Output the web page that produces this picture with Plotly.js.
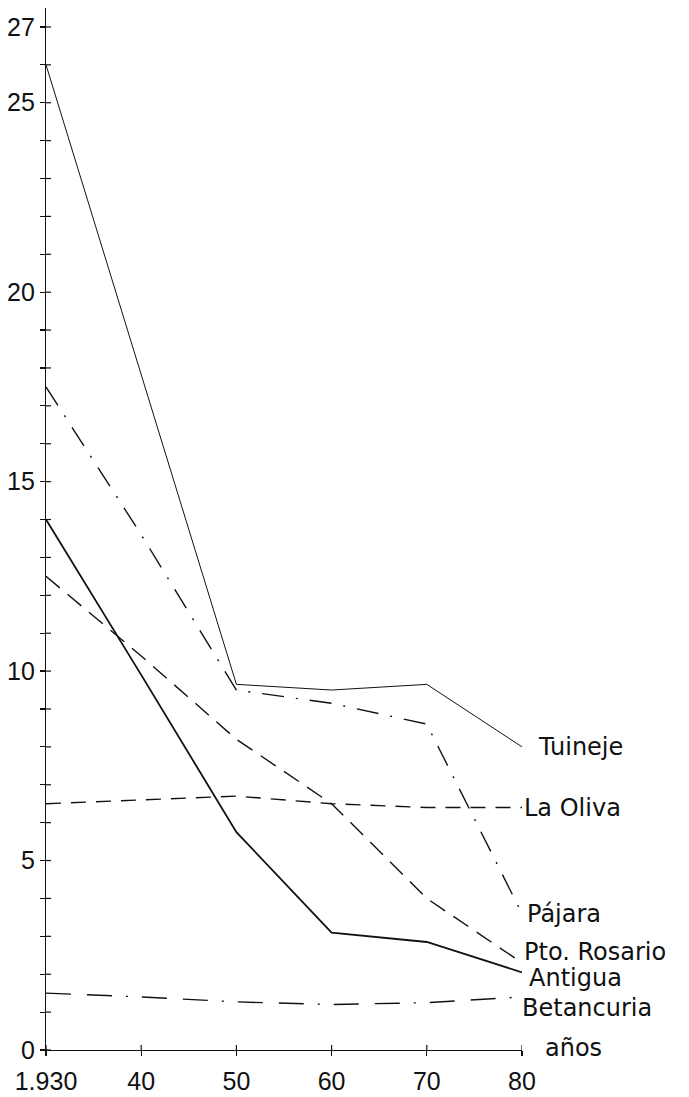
<!DOCTYPE html>
<html>
<head>
<meta charset="utf-8">
<script src="https://cdn.plot.ly/plotly-3.0.1.min.js"></script>
<style>
  html, body { margin: 0; padding: 0; background: #ffffff; }
  #chart { width: 689px; height: 1097px; }
</style>
</head>
<body>
<div id="chart"></div>
<script>
// ---- data ----
const years = [1930, 1940, 1950, 1960, 1970, 1980];
const tuineje    = [26.0, 17.8, 9.65, 9.5, 9.65, 8.0];
const laOliva    = [6.5, 6.6, 6.7, 6.5, 6.4, 6.4];
const pajara     = [17.5, 13.6, 9.5, 9.15, 8.6, 3.6];
const ptoRosario = [12.5, 10.4, 8.2, 6.5, 4.0, 2.3];
const antigua    = [14.0, 9.9, 5.75, 3.1, 2.85, 2.05];
const betancuria = [1.5, 1.4, 1.27, 1.2, 1.25, 1.4];

const seriesNames = ["Tuineje", "La Oliva", "Pájara", "Pto. Rosario", "Antigua", "Betancuria"];

const xTickVals = [1930, 1940, 1950, 1960, 1970, 1980];
const xTickText = ["1.930", "40", "50", "60", "70", "80"];
const yTickVals = [0,1,2,3,4,5,6,7,8,9,10,11,12,13,14,15,16,17,18,19,20,21,22,23,24,25,26,27];
const yLabelVals = [0, 5, 10, 15, 20, 25, 27];
const xAxisLabel = "años";

// ---- styles ----
const seriesData = [tuineje, laOliva, pajara, ptoRosario, antigua, betancuria];
const styles = [
  {width: 1.0, dash: "solid"},
  {width: 1.4, dash: "15px,10px"},
  {width: 1.4, dash: "22px,12px,2px,12px"},
  {width: 1.4, dash: "18px,10px"},
  {width: 1.8, dash: "solid"},
  {width: 1.4, dash: "25px,16px,25px,14px,2px,14px"}
];
const labelShift = [
  {x: 14, y: 0},
  {x: 0,  y: 0},
  {x: 3,  y: 0},
  {x: 0,  y: 11},
  {x: 5,  y: -6},
  {x: -2, y: -11}
];

const traces = seriesData.map((vals, i) => ({
  type: "scatter",
  mode: "lines",
  x: years,
  y: vals,
  name: seriesNames[i],
  line: {color: "#111111", width: styles[i].width, dash: styles[i].dash},
  hoverinfo: "skip",
  showlegend: false
}));

const labelFont = {family: "DejaVu Sans", size: 24, color: "#111111"};
const annotations = seriesData.map((vals, i) => ({
  x: years[years.length - 1],
  y: vals[vals.length - 1],
  xref: "x", yref: "y",
  text: seriesNames[i],
  showarrow: false,
  xanchor: "left", yanchor: "middle",
  xshift: labelShift[i].x, yshift: labelShift[i].y,
  font: labelFont
}));
annotations.push({
  x: xTickVals[xTickVals.length - 1], y: 0, xref: "x", yref: "y",
  text: xAxisLabel, showarrow: false, xanchor: "left", yanchor: "middle",
  xshift: 21, yshift: 2, font: labelFont
});

// crossing tick marks
const shapes = [];
yTickVals.forEach(v => shapes.push({
  type: "line", xref: "x", yref: "y", xsizemode: "pixel", xanchor: xTickVals[0],
  x0: -5, x1: 5, y0: v, y1: v, line: {color: "#111111", width: 1.2}
}));
xTickVals.forEach(v => shapes.push({
  type: "line", xref: "x", yref: "y", ysizemode: "pixel", yanchor: 0,
  y0: -5, y1: 5, x0: v, x1: v, line: {color: "#111111", width: 1.2}
}));

const numFont = {family: "Liberation Sans", size: 25, color: "#111111"};
const layout = {
  width: 689, height: 1097,
  margin: {l: 46, r: 167, t: 8, b: 47, pad: 0},
  paper_bgcolor: "#ffffff", plot_bgcolor: "#ffffff",
  showlegend: false,
  xaxis: {
    range: [1930, 1980],
    tickmode: "array", tickvals: xTickVals, ticktext: xTickText,
    ticks: "outside", ticklen: 5, tickcolor: "#111111", tickwidth: 1.2,
    showline: true, linecolor: "#111111", linewidth: 1.2,
    showgrid: false, zeroline: false, tickfont: numFont,
    ticklabelstandoff: 4, fixedrange: true
  },
  yaxis: {
    range: [0, 27.5],
    tickmode: "array", tickvals: yTickVals,
    ticktext: yTickVals.map(v => yLabelVals.includes(v) ? String(v) : ""),
    ticks: "outside", ticklen: 5, tickcolor: "#111111", tickwidth: 1.2,
    showline: true, linecolor: "#111111", linewidth: 1.2,
    showgrid: false, zeroline: false, tickfont: numFont,
    ticklabelstandoff: 0, fixedrange: true
  },
  annotations: annotations,
  shapes: shapes
};

Plotly.newPlot("chart", traces, layout, {staticPlot: true, displayModeBar: false});
</script>
</body>
</html>
